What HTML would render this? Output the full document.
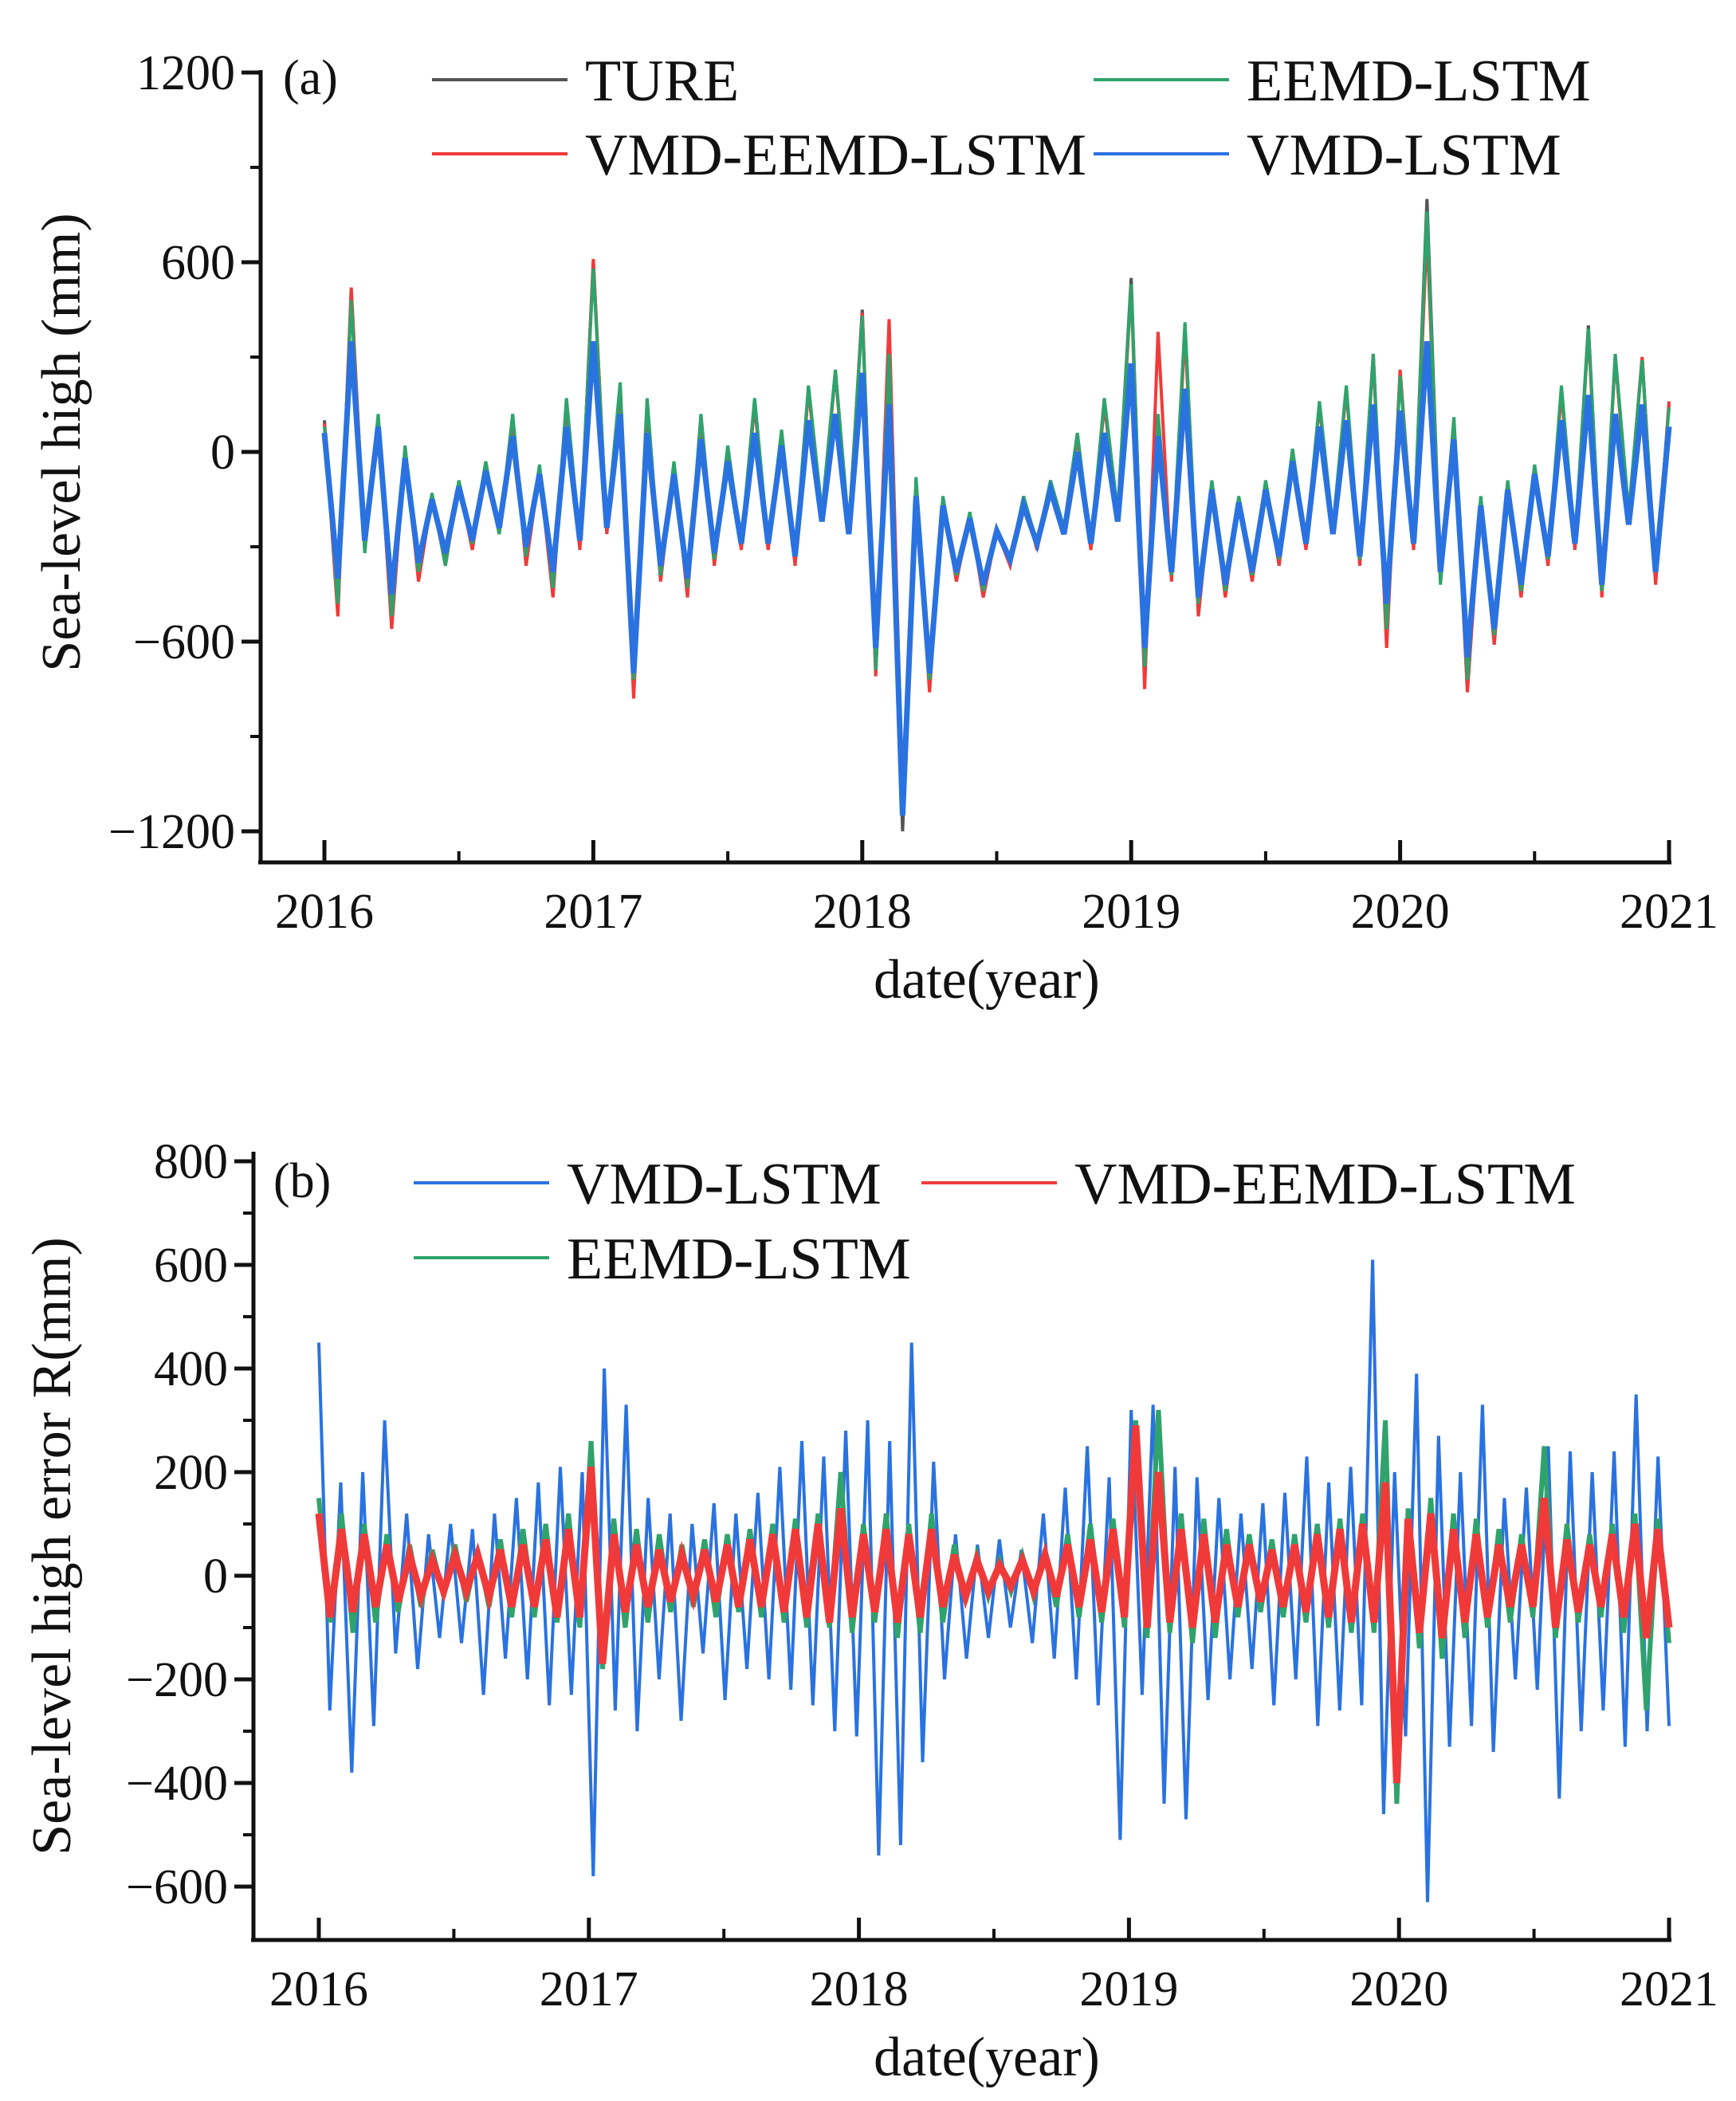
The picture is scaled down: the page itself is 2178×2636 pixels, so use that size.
<!DOCTYPE html>
<html><head><meta charset="utf-8">
<style>
html,body{margin:0;padding:0;background:#fff}
svg{display:block}
text{font-family:"Liberation Serif","DejaVu Serif",serif;fill:#111}
</style></head>
<body>
<svg id="chart" width="2178" height="2636" viewBox="0 0 2178 2636" xmlns="http://www.w3.org/2000/svg">
<g id="pa"></g>
<g id="pb"></g>
</svg>
<script>
// ---------- Panel (a) data: 20 samples per year, 2016..2021 ----------
const yearsTicks = ["2016","2017","2018","2019","2020","2021"];
const aYTicks = [1200,600,0,-600,-1200];
const aTrue = [100,-500,500,-300,100,-550,0,-400,-150,-350,-100,-300,-50,-250,100,-350,-50,-450,150,-300,
 600,-250,200,-750,150,-400,-50,-450,100,-350,0,-300,150,-300,50,-350,200,-200,250,-250,
 450,-700,300,-1200,-100,-750,-150,-400,-200,-450,-250,-350,-150,-300,-100,-250,50,-300,150,-200,
 550,-700,100,-400,400,-500,-100,-450,-150,-400,-100,-350,0,-300,150,-250,200,-350,300,-600,
 250,-300,800,-400,100,-750,-150,-600,-100,-450,-50,-350,200,-300,400,-450,300,-200,300,-400,150];
const aEemd = [80,-480,480,-320,120,-520,20,-380,-130,-360,-90,-290,-30,-260,120,-330,-40,-430,170,-280,
 580,-240,220,-720,170,-390,-30,-430,120,-340,20,-290,170,-290,70,-330,210,-190,260,-240,
 430,-690,310,-1150,-80,-720,-140,-390,-190,-440,-240,-340,-140,-290,-90,-240,60,-290,170,-190,
 530,-680,120,-390,410,-480,-90,-440,-140,-390,-90,-340,10,-290,160,-240,210,-340,310,-560,
 240,-290,760,-420,110,-720,-140,-580,-90,-440,-40,-340,210,-290,390,-440,310,-190,290,-380,140];
const aVmdEemd = [90,-520,520,-310,110,-560,10,-410,-140,-360,-100,-310,-40,-260,110,-360,-60,-460,160,-310,
 610,-260,210,-780,160,-410,-40,-460,110,-360,10,-310,160,-310,60,-360,200,-210,260,-260,
 440,-710,420,-1100,-90,-760,-150,-410,-200,-460,-250,-360,-150,-310,-100,-260,50,-310,160,-210,
 520,-750,380,-410,380,-520,-100,-460,-150,-410,-100,-360,0,-310,150,-260,200,-360,310,-620,
 260,-310,700,-410,100,-760,-150,-610,-100,-460,-50,-360,190,-310,380,-460,300,-210,300,-420,160];
const aVmd = [60,-400,350,-280,80,-450,-20,-350,-150,-320,-110,-280,-60,-240,50,-300,-70,-380,80,-280,
 350,-240,120,-700,60,-360,-70,-400,40,-320,-30,-290,60,-290,20,-330,100,-220,120,-260,
 250,-620,150,-1150,-140,-700,-170,-380,-210,-420,-250,-340,-170,-290,-120,-260,0,-290,60,-220,
 280,-620,50,-380,200,-460,-120,-420,-160,-380,-120,-330,-30,-290,80,-260,100,-330,150,-480,
 130,-290,350,-380,40,-650,-170,-560,-120,-420,-70,-330,100,-290,180,-420,120,-230,150,-380,80];

// ---------- Panel (b) data: 25 samples per year ----------
const bYTicks = [800,600,400,200,0,-200,-400,-600];
const bVmd = [450,-260,180,-380,200,-290,300,-150,120,-180,80,-120,100,-130,90,-230,120,-160,150,-200,180,-250,210,-230,200,
 -580,400,-260,330,-300,150,-200,120,-280,100,-150,140,-240,120,-180,160,-200,210,-220,260,-250,230,-300,280,-310,
 300,-540,260,-520,450,-360,220,-200,80,-160,60,-120,70,-100,50,-130,120,-160,170,-200,250,-250,190,-510,320,
 -230,330,-440,210,-470,190,-240,150,-200,120,-180,140,-250,160,-200,230,-290,180,-260,210,-250,610,-460,200,
 -310,390,-630,270,-330,200,-290,330,-340,150,-200,170,-220,250,-430,240,-300,200,-260,240,-330,350,-300,230,-290];
const bEemd = [150,-90,120,-110,100,-90,80,-70,60,-60,50,-40,60,-50,50,-60,70,-80,90,-80,100,-90,120,-100,260,
 -180,110,-100,90,-90,80,-70,60,-60,70,-80,80,-70,90,-80,100,-90,110,-100,120,-100,200,-110,100,-90,
 120,-120,100,-110,120,-90,60,-50,40,-40,30,-30,40,-40,50,-60,80,-80,100,-90,110,-100,300,-120,320,
 -110,120,-130,110,-120,90,-80,80,-70,70,-80,80,-90,100,-100,110,-110,120,-110,300,-440,130,
 -140,150,-160,120,-120,110,-100,90,-90,80,-80,250,-120,100,-90,80,-80,100,-110,120,-260,110,-130];
const bVmdEemd = [120,-80,90,-70,80,-60,60,-50,40,-40,30,-30,40,-30,40,-40,50,-60,60,-60,70,-80,90,-80,210,
 -170,80,-70,60,-60,50,-50,40,-40,50,-50,60,-60,70,-60,80,-70,90,-80,100,-90,130,-80,80,-70,
 90,-90,80,-80,90,-60,40,-40,30,-30,20,-20,30,-30,40,-40,60,-60,70,-70,90,-80,290,-100,200,
 -90,90,-100,80,-90,60,-60,60,-50,50,-60,60,-70,80,-80,90,-90,100,-90,180,-400,110,
 -110,120,-120,90,-90,80,-80,60,-60,60,-60,150,-100,70,-70,60,-60,80,-80,100,-120,90,-100];

const NS='http://www.w3.org/2000/svg';
function mk(parent,tag,attrs,name,txt){
  const el=document.createElementNS(NS,tag);
  for(const k in attrs) el.setAttribute(k,attrs[k]);
  
  
  if(txt!==undefined) el.textContent=txt;
  parent.appendChild(el);
  return el;
}

function panel(g,cfg){
  const xs=t=>cfg.x0+(cfg.x1-cfg.x0)*t/5;
  const ys=v=>cfg.yZero-(v)*cfg.pxPerUnit;
  cfg.series.forEach(s=>{
    const n=s.data.length;
    let d='';
    s.data.forEach((v,i)=>{d+=(i?'L':'M')+xs(5*i/(n-1)).toFixed(1)+','+ys(v).toFixed(1);});
    mk(g,'path',{d:d,fill:'none',stroke:s.color,'stroke-width':s.w,'stroke-linejoin':'miter','stroke-opacity':s.op||1},s.name);
  });
  mk(g,'line',{x1:cfg.ax,y1:cfg.yTop,x2:cfg.ax,y2:cfg.bottom,stroke:'#111','stroke-width':5},'y-axis-line');
  mk(g,'line',{x1:cfg.ax-3,y1:cfg.bottom,x2:cfg.x1+3,y2:cfg.bottom,stroke:'#111','stroke-width':5},'x-axis-line');
  cfg.yTicks.forEach((v,i)=>{
    const y=ys(v);
    mk(g,'line',{x1:cfg.ax-24,y1:y,x2:cfg.ax,y2:y,stroke:'#111','stroke-width':5},'y-major-tick');
    mk(g,'text',{x:cfg.ax-32,y:y+21,'font-size':62,'text-anchor':'end'},'y-tick-label',String(v).replace('-','\u2212'));
    if(i<cfg.yTicks.length-1){
      const ym=ys((v+cfg.yTicks[i+1])/2);
      mk(g,'line',{x1:cfg.ax-13,y1:ym,x2:cfg.ax,y2:ym,stroke:'#111','stroke-width':4},'y-minor-tick');
    }
  });
  yearsTicks.forEach((lab,i)=>{
    const x=xs(i);
    mk(g,'line',{x1:x,y1:cfg.bottom,x2:x,y2:cfg.bottom-28,stroke:'#111','stroke-width':5},'x-major-tick');
    mk(g,'text',{x:x,y:cfg.bottom+82,'font-size':62,'text-anchor':'middle'},'x-tick-label',lab);
    if(i<5){const xm=xs(i+0.5);
      mk(g,'line',{x1:xm,y1:cfg.bottom,x2:xm,y2:cfg.bottom-14,stroke:'#111','stroke-width':4},'x-minor-tick');}
  });
  mk(g,'text',{x:cfg.xTitleX,y:cfg.bottom+170,'font-size':70,'text-anchor':'middle'},'x-axis-title','date(year)');
  mk(g,'text',{x:0,y:0,'font-size':70,'text-anchor':'middle',transform:'translate('+cfg.yTitleX+','+cfg.yTitleY+') rotate(-90)'},'y-axis-title',cfg.yTitle);
  mk(g,'text',{x:cfg.tagX,y:cfg.tagY,'font-size':62},'panel-label',cfg.tag);
  cfg.legend.forEach(l=>{
    const lg=mk(g,'g',{},'legend-entry');
    mk(lg,'line',{x1:l.lx,y1:l.y,x2:l.lx+170,y2:l.y,stroke:l.color,'stroke-width':4},'legend-swatch');
    mk(lg,'text',{x:l.lx+192,y:l.y+26,'font-size':74},'legend-label',l.label);
  });
}

panel(document.getElementById('pa'),{
  x0:407,x1:2094,ax:327,yTop:88,bottom:1082,yZero:567,pxPerUnit:476/1200,
  yTicks:aYTicks,xTitleX:1238,yTitle:'Sea-level high (mm)',yTitleX:100,yTitleY:555,
  tag:'(a)',tagX:355,tagY:118,
  series:[
    {name:'series-ture',data:aTrue,color:'#555555',w:4},
    {name:'series-vmd-eemd-lstm',data:aVmdEemd,color:'#f03a3a',w:4},
    {name:'series-eemd-lstm',data:aEemd,color:'#2fa36b',w:4},
    {name:'series-vmd-lstm',data:aVmd,color:'#2a72e0',w:7}
  ],
  legend:[
    {lx:542,y:100,color:'#555555',label:'TURE'},
    {lx:1372,y:100,color:'#2fa36b',label:'EEMD-LSTM'},
    {lx:542,y:193,color:'#f03a3a',label:'VMD-EEMD-LSTM'},
    {lx:1372,y:193,color:'#2a72e0',label:'VMD-LSTM'}
  ]
});
panel(document.getElementById('pb'),{
  x0:400,x1:2094,ax:318,yTop:1445,bottom:2434,yZero:1977,pxPerUnit:520/800,
  yTicks:bYTicks,xTitleX:1238,yTitle:'Sea-level high error R(mm)',yTitleX:88,yTitleY:1940,
  tag:'(b)',tagX:343,tagY:1502,
  series:[
    {name:'series-vmd-lstm-error',data:bVmd,color:'#2a72e0',w:4},
    {name:'series-eemd-lstm-error',data:bEemd,color:'#2fa36b',w:6},
    {name:'series-vmd-eemd-lstm-error',data:bVmdEemd,color:'#f03a3a',w:9}
  ],
  legend:[
    {lx:519,y:1484,color:'#2a72e0',label:'VMD-LSTM'},
    {lx:1156,y:1484,color:'#f03a3a',label:'VMD-EEMD-LSTM'},
    {lx:519,y:1578,color:'#2fa36b',label:'EEMD-LSTM'}
  ]
});
</script>
</body></html>
